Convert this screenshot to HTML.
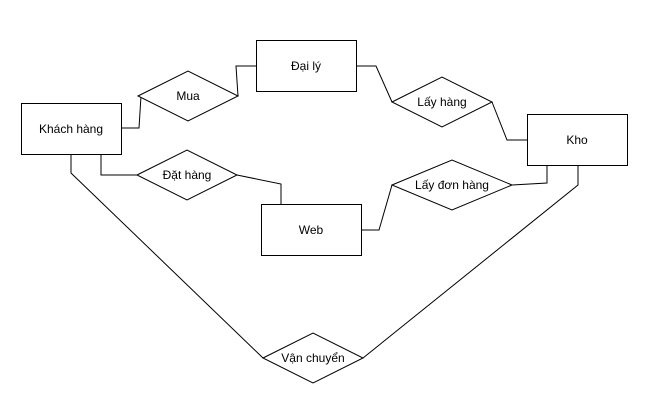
<!DOCTYPE html>
<html><head><meta charset="utf-8"><style>
body{margin:0;background:#fff;}
svg{display:block;}
text{font-family:"Liberation Sans","DejaVu Sans",sans-serif;font-size:12px;fill:#000;}
</style></head><body>
<svg width="659" height="414" viewBox="0 0 659 414" xmlns="http://www.w3.org/2000/svg">
<g fill="none" stroke="#000" stroke-width="1">
<polyline points="121,128 139,128 141,96"/>
<polyline points="238,96 236,66 256,66"/>
<polyline points="356,66 376,66 392,102"/>
<polyline points="492,102 507,140 527,140"/>
<polyline points="101,154 101,175 137,175"/>
<polyline points="237,175 281,184 281,204"/>
<polyline points="361,230 379,230 392,185"/>
<polyline points="512,185 547,183 547,165"/>
<polyline points="71,154 71,173 263,358"/>
<polyline points="363,358 578,185 578,165"/>
</g>
<g fill="#fff" stroke="#000" stroke-width="1">
<rect x="21.5" y="103.5" width="100" height="51"/>
<rect x="256.5" y="40.5" width="100" height="51"/>
<rect x="527.5" y="114.5" width="100" height="51"/>
<rect x="261.5" y="204.5" width="100" height="51"/>
<polygon points="138,96 188,71 238,96 188,121"/>
<polygon points="392,102 442,77 492,102 442,127"/>
<polygon points="137,175 187,150 237,175 187,200"/>
<polygon points="392,185 452,160 512,185 452,210"/>
<polygon points="263,358 313,333 363,358 313,383"/>
</g>
<g text-anchor="middle">
<text x="71" y="133">Khách hàng</text>
<text x="306" y="70">Đại lý</text>
<text x="577" y="144">Kho</text>
<text x="311" y="234">Web</text>
<text x="188" y="100">Mua</text>
<text x="442" y="106">Lấy hàng</text>
<text x="187" y="179">Đặt hàng</text>
<text x="452" y="189">Lấy đơn hàng</text>
<text x="313" y="362">Vận chuyển</text>
</g>
</svg>
</body></html>
